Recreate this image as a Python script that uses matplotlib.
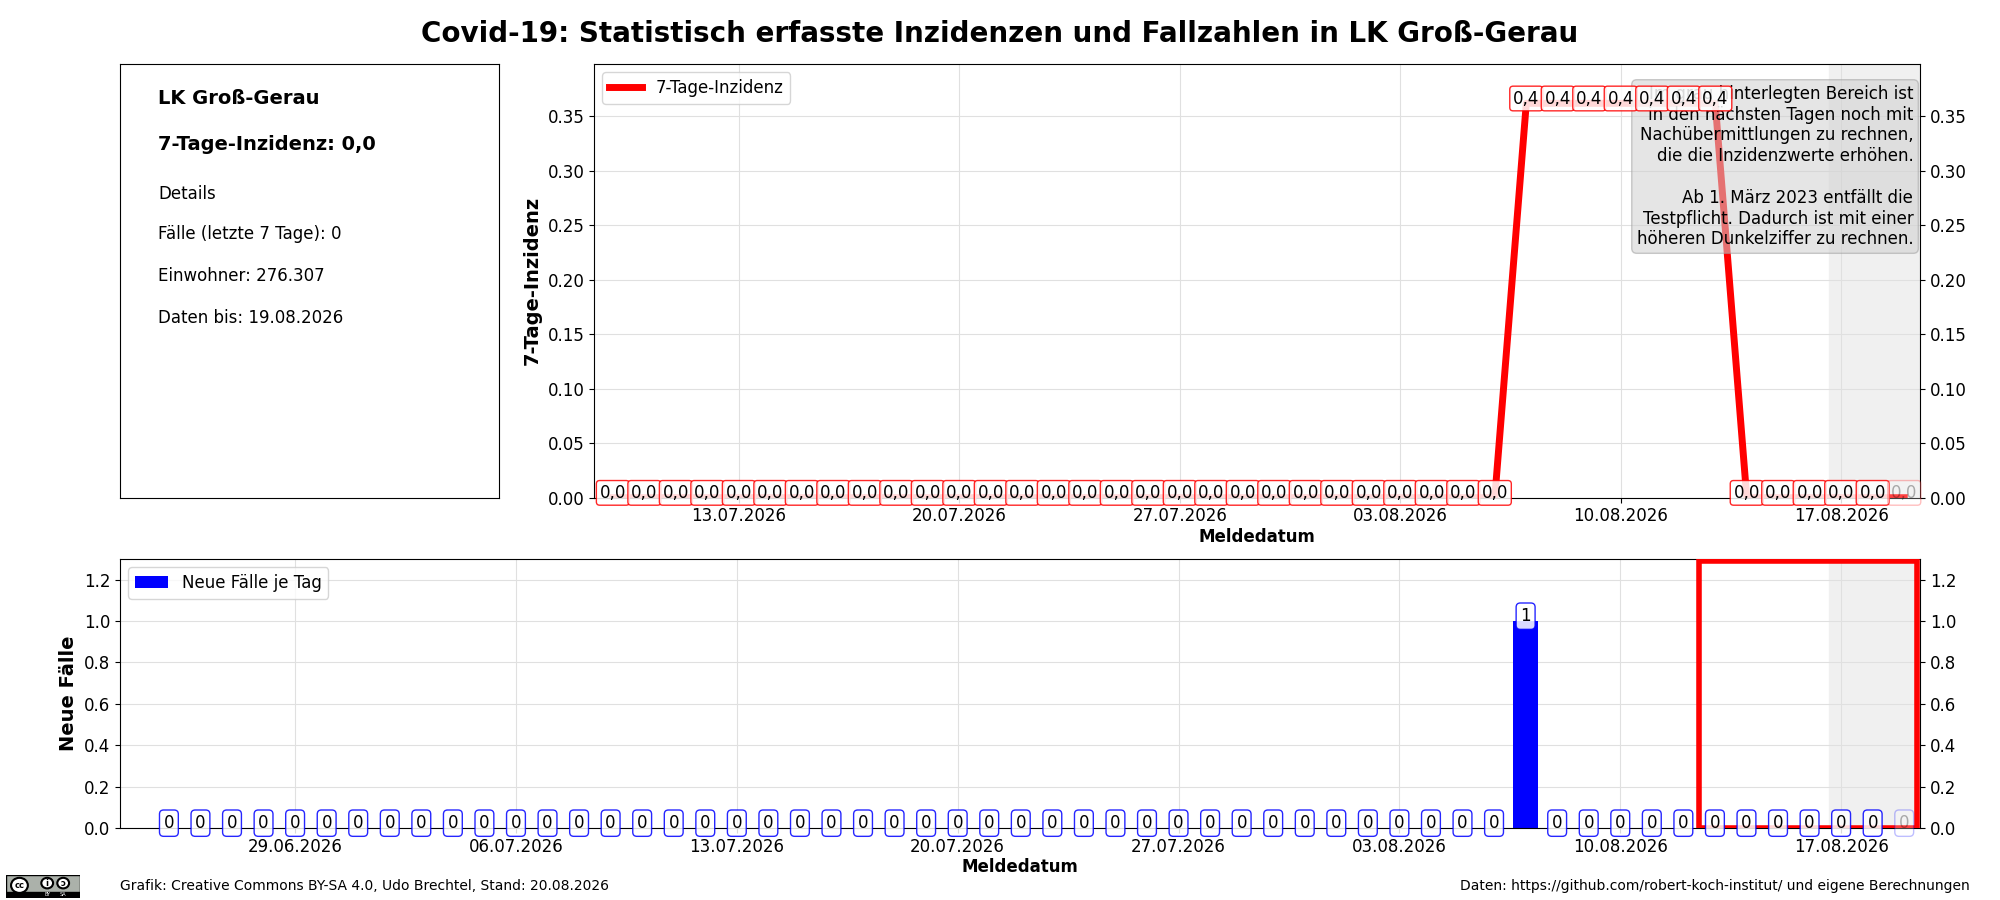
import pandas as pd
import matplotlib
matplotlib.use("Agg")
import matplotlib.pyplot as plt
import matplotlib.dates as mdates
from matplotlib.patches import Rectangle, Circle

# Daten
landkreis = "LK Groß-Gerau"
einwohner = "276.307"
stand = "20.08.2026"
daten_bis = "19.08.2026"

faelle_tage = pd.date_range("2026-06-25", "2026-08-19", freq="D")
faelle = [0, 0, 0, 0, 0, 0, 0, 0, 0, 0, 0, 0, 0, 0,
          0, 0, 0, 0, 0, 0, 0, 0, 0, 0, 0, 0, 0, 0,
          0, 0, 0, 0, 0, 0, 0, 0, 0, 0, 0, 0, 0, 0,
          0, 1, 0, 0, 0, 0, 0, 0, 0, 0, 0, 0, 0, 0]

inzidenz_tage = pd.date_range("2026-07-09", "2026-08-19", freq="D")
inzidenz = [0.0, 0.0, 0.0, 0.0, 0.0, 0.0, 0.0, 0.0, 0.0, 0.0,
            0.0, 0.0, 0.0, 0.0, 0.0, 0.0, 0.0, 0.0, 0.0, 0.0,
            0.0, 0.0, 0.0, 0.0, 0.0, 0.0, 0.0, 0.0, 0.0,
            0.362, 0.362, 0.362, 0.362, 0.362, 0.362, 0.362,
            0.0, 0.0, 0.0, 0.0, 0.0, 0.0]

hinweis = ("Im grau hinterlegten Bereich ist\n"
           "in den nächsten Tagen noch mit\n"
           "Nachübermittlungen zu rechnen,\n"
           "die die Inzidenzwerte erhöhen.\n\n"
           "Ab 1. März 2023 entfällt die\n"
           "Testpflicht. Dadurch ist mit einer\n"
           "höheren Dunkelziffer zu rechnen.")

tag = pd.Timedelta(days=1)
grau_start = faelle_tage[-1] - 2.4 * tag
ende = faelle_tage[-1] + 0.5 * tag

fig = plt.figure(figsize=(20, 9), dpi=100)
fig.suptitle("Covid-19: Statistisch erfasste Inzidenzen und Fallzahlen in " + landkreis,
             fontsize=20, fontweight="bold", y=0.978)

# Info-Kasten
ax_info = fig.add_axes([0.06, 0.447, 0.1895, 0.482])
ax_info.set_xticks([])
ax_info.set_yticks([])
ax_info.text(0.1, 0.92, landkreis, fontsize=14, fontweight="bold", va="center")
ax_info.text(0.1, 0.815, "7-Tage-Inzidenz: " + f"{inzidenz[-1]:.1f}".replace(".", ","),
             fontsize=14, fontweight="bold", va="center")
ax_info.text(0.1, 0.70, "Details", fontsize=12, va="center")
ax_info.text(0.1, 0.608, "Fälle (letzte 7 Tage): " + str(sum(faelle[-7:])), fontsize=12, va="center")
ax_info.text(0.1, 0.511, "Einwohner: " + einwohner, fontsize=12, va="center")
ax_info.text(0.1, 0.414, "Daten bis: " + daten_bis, fontsize=12, va="center")

# 7-Tage-Inzidenz
ax1 = fig.add_axes([0.297, 0.447, 0.663, 0.482])
ax1.plot(inzidenz_tage, inzidenz, color="red", lw=5, label="7-Tage-Inzidenz", zorder=2)
ax1.axvspan(grau_start, ende, color="#f0f0f0", zorder=0)
for i, (d, v) in enumerate(zip(inzidenz_tage, inzidenz)):
    a = 0.3 if i == len(inzidenz) - 1 else 1.0
    ax1.annotate(f"{v:.1f}".replace(".", ","), (d, v), xytext=(0, -3), textcoords="offset points",
                 ha="center", va="bottom", fontsize=12, alpha=a, zorder=6, annotation_clip=False,
                 bbox=dict(boxstyle="round,pad=0.2", fc="white", ec="red", alpha=0.85 * a))
ax1.text(0.995, 0.952, hinweis, transform=ax1.transAxes, ha="right", va="top", fontsize=12,
         zorder=4, bbox=dict(boxstyle="round,pad=0.3", fc="#d0d0d0", ec="#a0a0a0", alpha=0.55))
ax1.set_xlim(inzidenz_tage[0] - 0.6 * tag, ende)
ax1.set_ylim(0, max(inzidenz) * 1.1)
ax1.set_ylabel("7-Tage-Inzidenz", fontsize=14, fontweight="bold")
ax1.set_xlabel("Meldedatum", fontsize=12, fontweight="bold", labelpad=2)
ax1.legend(loc="upper left", fontsize=12)

# Neue Fälle
ax2 = fig.add_axes([0.06, 0.08, 0.90, 0.299])
ax2.bar(faelle_tage, faelle, width=0.8, color="blue", label="Neue Fälle je Tag", zorder=2)
ax2.axvspan(grau_start, ende, color="#f0f0f0", zorder=0)
for i, (d, v) in enumerate(zip(faelle_tage, faelle)):
    a = 0.3 if i == len(faelle) - 1 else 1.0
    ax2.annotate(str(v), (d, v), xytext=(0, -3), textcoords="offset points",
                 ha="center", va="bottom", fontsize=12, alpha=a, zorder=6, annotation_clip=False,
                 bbox=dict(boxstyle="round,pad=0.25", fc="white", ec="blue", alpha=0.85 * a))
ax2.set_ylim(0, max(faelle) * 1.3)
ax2.add_patch(Rectangle((mdates.date2num(faelle_tage[-7] - 0.5 * tag), 0), 6.9, max(faelle) * 1.29,
                        fill=False, ec="red", lw=4, zorder=5))
ax2.set_xlim(faelle_tage[0] - 1.55 * tag, ende)
ax2.set_ylabel("Neue Fälle", fontsize=14, fontweight="bold")
ax2.set_xlabel("Meldedatum", fontsize=12, fontweight="bold", labelpad=2)
ax2.legend(loc="upper left", fontsize=12)

for ax in (ax1, ax2):
    ax.xaxis.set_major_locator(mdates.WeekdayLocator(byweekday=mdates.MO))
    ax.xaxis.set_major_formatter(mdates.DateFormatter("%d.%m.%Y"))
    ax.tick_params(labelsize=12, right=True, labelright=True)
    ax.grid(True, color="#e0e0e0", lw=0.8, zorder=0)
    ax.set_axisbelow(True)

# Fußzeile
fig.text(0.06, 0.0155, "Grafik: Creative Commons BY-SA 4.0, Udo Brechtel, Stand: " + stand,
         fontsize=10, va="center")
fig.text(0.985, 0.0155, "Daten: https://github.com/robert-koch-institut/ und eigene Berechnungen",
         fontsize=10, va="center", ha="right")

# CC-Logo (vereinfacht)
ax_cc = fig.add_axes([0.003, 0.002, 0.037, 0.026])
ax_cc.set_xlim(0, 88)
ax_cc.set_ylim(0, 31)
ax_cc.axis("off")
ax_cc.add_patch(Rectangle((0.5, 0.5), 87, 30, fc="#abb1aa", ec="black", lw=1))
ax_cc.add_patch(Rectangle((0.5, 0.5), 87, 8, fc="black", ec="black", lw=1))
ax_cc.add_patch(Circle((16, 17), 10, fc="white", ec="black", lw=1.5))
ax_cc.text(16, 17, "cc", fontsize=6, fontweight="bold", ha="center", va="center")
ax_cc.add_patch(Circle((49, 20), 7, fc="white", ec="black", lw=1.5))
ax_cc.text(49, 20, "i", fontsize=6, fontweight="bold", ha="center", va="center")
ax_cc.add_patch(Circle((68, 20), 7, fc="white", ec="black", lw=1.5))
ax_cc.text(68, 20, "ↄ", fontsize=6, fontweight="bold", ha="center", va="center")
ax_cc.text(49, 4.5, "BY", fontsize=3.5, color="white", ha="center", va="center")
ax_cc.text(68, 4.5, "SA", fontsize=3.5, color="white", ha="center", va="center")

fig.savefig("out.png", dpi=100)
